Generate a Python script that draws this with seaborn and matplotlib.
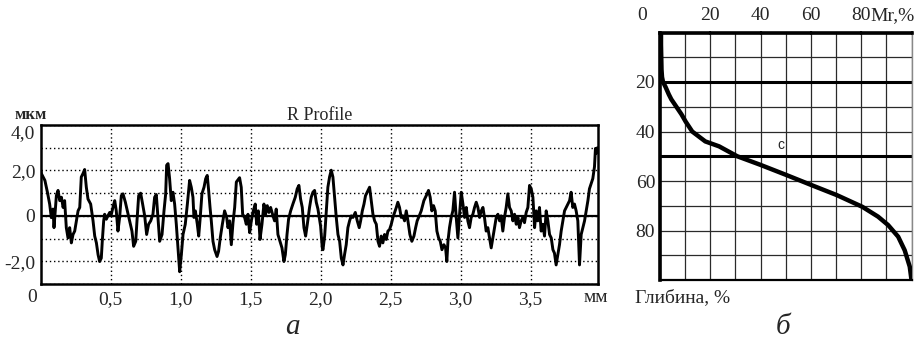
import numpy as np
import pandas as pd
import matplotlib
matplotlib.use("Agg")
import matplotlib.pyplot as plt
import matplotlib.transforms as mtrans
import seaborn as sns

# ---------------- data ----------------
# R profile (a): position, mm / height, µm
profile_x_mm = [
    0.0, 0.005, 0.03, 0.048, 0.064, 0.076, 0.088, 0.095, 0.112, 0.124, 0.136, 0.148, 0.16, 0.171,
    0.183, 0.195, 0.207, 0.219, 0.231, 0.243, 0.255, 0.267, 0.279, 0.29, 0.302, 0.314, 0.326,
    0.338, 0.357, 0.374, 0.386, 0.398, 0.41, 0.421, 0.433, 0.44, 0.45, 0.457, 0.469, 0.48,
    0.493, 0.505, 0.519, 0.529, 0.54, 0.552, 0.564, 0.576, 0.588, 0.605, 0.619, 0.636, 0.652,
    0.664, 0.679, 0.688, 0.7, 0.714, 0.726, 0.743, 0.757, 0.771, 0.786, 0.802, 0.814, 0.826,
    0.838, 0.85, 0.867, 0.881, 0.893, 0.9, 0.91, 0.921, 0.933, 0.945, 0.957, 0.969, 0.981,
    0.993, 1.005, 1.017, 1.033, 1.048, 1.064, 1.076, 1.088, 1.095, 1.105, 1.119, 1.129, 1.14,
    1.152, 1.167, 1.179, 1.19, 1.2, 1.21, 1.219, 1.231, 1.243, 1.26, 1.271, 1.283, 1.298,
    1.314, 1.329, 1.338, 1.35, 1.362, 1.374, 1.386, 1.398, 1.41, 1.421, 1.433, 1.443, 1.457,
    1.469, 1.481, 1.493, 1.505, 1.519, 1.533, 1.543, 1.555, 1.567, 1.581, 1.595, 1.607, 1.619,
    1.631, 1.643, 1.66, 1.671, 1.683, 1.695, 1.71, 1.724, 1.738, 1.748, 1.76, 1.771, 1.786,
    1.802, 1.819, 1.833, 1.845, 1.857, 1.869, 1.881, 1.893, 1.905, 1.921, 1.933, 1.945, 1.957,
    1.969, 1.981, 2.0, 2.012, 2.017, 2.029, 2.041, 2.052, 2.064, 2.076, 2.088, 2.1, 2.112,
    2.124, 2.136, 2.148, 2.16, 2.171, 2.183, 2.195, 2.207, 2.219, 2.231, 2.248, 2.262, 2.276,
    2.286, 2.298, 2.31, 2.321, 2.333, 2.35, 2.362, 2.374, 2.386, 2.398, 2.41, 2.421, 2.433,
    2.445, 2.457, 2.469, 2.481, 2.493, 2.505, 2.517, 2.529, 2.541, 2.552, 2.564, 2.576, 2.588,
    2.6, 2.612, 2.624, 2.638, 2.652, 2.667, 2.679, 2.69, 2.705, 2.719, 2.738, 2.755, 2.771,
    2.783, 2.795, 2.807, 2.819, 2.831, 2.843, 2.855, 2.867, 2.881, 2.893, 2.902, 2.91, 2.921,
    2.933, 2.945, 2.957, 2.969, 2.981, 2.993, 3.005, 3.017, 3.029, 3.041, 3.052, 3.064, 3.076,
    3.088, 3.1, 3.112, 3.124, 3.136, 3.148, 3.16, 3.171, 3.183, 3.195, 3.207, 3.219, 3.231,
    3.243, 3.255, 3.267, 3.279, 3.29, 3.302, 3.314, 3.326, 3.338, 3.35, 3.362, 3.374, 3.386,
    3.398, 3.41, 3.421, 3.433, 3.445, 3.457, 3.469, 3.481, 3.493, 3.505, 3.517, 3.529, 3.54,
    3.552, 3.564, 3.576, 3.588, 3.6, 3.612, 3.624, 3.636, 3.648, 3.66, 3.671, 3.683, 3.695,
    3.707, 3.719, 3.731, 3.743, 3.755, 3.767, 3.779, 3.79, 3.802, 3.814, 3.826, 3.838, 3.85,
    3.862, 3.874, 3.886, 3.898, 3.91, 3.921, 3.933, 3.945, 3.957, 3.964, 3.971, 3.978,
]
profile_z_um = [
    2.0, 1.86, 1.56, 1.04, 0.52, -0.08, 0.30, -0.52, 0.89, 1.12, 0.67, 0.82, 0.37, 0.67,
    -0.52, -0.97, -0.52, -1.19, -0.82, -0.67, -0.22, 0.22, 0.37, 1.71, 1.86, 2.04, 1.26,
    0.74, 0.52, -0.22, -0.89, -1.19, -1.71, -2.01, -1.86, -1.12, -0.22, 0.07, -0.15, 0.0,
    0.15, 0.07, 0.45, 0.67, 0.22, -0.67, -0.07, 0.89, 0.97, 0.6, 0.22, -0.22, -0.67,
    -1.34, -1.12, -0.22, 0.89, 1.0, 0.6, 0.0, -0.82, -0.37, -0.22, 0.07, 0.82, 0.94,
    -0.07, -1.12, -0.82, 0.22, 0.97, 2.23, 2.3, 1.64, 0.67, 1.04, 0.52, -0.37, -1.41,
    -2.46, -1.71, -0.82, -0.37, 0.52, 1.56, 1.26, 0.82, -0.07, 0.22, -0.37, -0.89, -0.07,
    0.97, 1.26, 1.64, 1.78, 1.12, 0.37, -0.22, -1.12, -1.49, -1.79, -1.56, -0.97, -0.37,
    0.22, -0.07, -0.52, -0.22, -1.27, -0.3, 0.37, 1.49, 1.59, 1.68, 1.26, 0.07, -0.07,
    -0.37, 0.07, -0.74, -0.22, 0.22, 0.52, -0.37, 0.22, -1.04, -0.37, 0.52, 0.07, 0.45,
    0.15, 0.37, 0.0, -0.22, 0.3, -0.82, -1.12, -1.41, -2.01, -1.71, -0.82, -0.15, 0.22,
    0.52, 0.82, 1.19, 1.34, 0.74, 0.37, -0.52, -0.89, -0.37, 0.37, 0.82, 1.04, 1.12,
    0.6, 0.3, -0.45, -1.41, -1.49, -0.89, 0.22, 1.26, 1.71, 2.01, 1.71, 0.82, -0.07,
    -0.82, -1.12, -1.86, -2.16, -1.71, -1.27, -0.52, -0.22, 0.0, -0.07, 0.15, -0.22, -0.52,
    -0.22, 0.22, 0.52, 0.89, 1.04, 1.26, 0.67, 0.07, -0.22, -0.37, -1.12, -1.34, -0.89,
    -1.19, -0.82, -1.04, -0.67, -0.6, -0.37, -0.07, 0.15, 0.37, 0.6, 0.37, -0.07, 0.0,
    -0.22, 0.22, -0.22, -0.82, -1.12, -0.89, -0.52, -0.22, 0.0, 0.22, 0.67, 0.89, 1.12,
    0.82, 0.22, 0.45, 0.22, -0.67, -0.97, -1.12, -1.49, -1.27, -1.41, -2.01, -1.12, -0.52,
    -0.07, 0.22, 1.04, -0.07, -0.97, 0.07, 1.04, 0.52, -0.07, 0.37, -0.22, -0.52, -0.07,
    0.07, 0.37, 0.6, 0.37, -0.07, 0.22, 0.37, -0.07, -0.67, -0.52, -0.97, -1.41, -0.97,
    -0.52, -0.07, 0.07, -0.22, 0.0, -0.67, -0.07, 0.37, 0.97, 0.37, 0.22, -0.22, 0.07,
    -0.37, -0.07, -0.52, -0.22, -0.07, -0.3, 0.15, 0.37, 1.34, 1.19, 0.82, -0.52, 0.22,
    -0.22, 0.37, -0.67, -0.37, -0.89, 0.22, -0.22, -0.82, -0.97, -1.49, -1.64, -2.16, -1.71,
    -1.27, -0.67, -0.22, 0.22, 0.37, 0.52, 0.67, 1.04, 0.37, 0.52, 0.22, -0.22, -2.16,
    -0.82, -0.52, -0.22, 0.22, 0.67, 1.19, 1.41, 1.64, 2.16, 2.97, 2.75, 3.0,
]

# Bearing curve (б): material ratio Mr, % / depth, %
bearing_mr = [0.4, 0.4, 0.5, 0.6, 0.8, 1.2, 2.2, 3.5, 4.5, 6.5, 8.5, 10.2, 12.8, 18.0, 23.5,
              30.7, 40.0, 50.3, 60.1, 70.3, 80.4, 86.7, 90.7, 94.7, 97.3, 99.3, 100.0]
bearing_depth = [0, 5, 10, 15, 18, 20, 22, 25, 27, 30, 33, 36, 40, 44, 46,
                 50, 53.5, 57.6, 61.6, 65.7, 70.4, 74.4, 77.8, 82.5, 88, 94.6, 100]

prof_yticks = [-3, -2, -1, 0, 1, 2, 3, 4]
prof_yticklabels = ["", "-2,0", "", "0", "", "2,0", "", "4,0"]
prof_xticks = [0.5, 1.0, 1.5, 2.0, 2.5, 3.0, 3.5]
prof_xticklabels = ["0,5", "1,0", "1,5", "2,0", "2,5", "3,0", "3,5"]
bear_xticks = [0, 20, 40, 60, 80, 100]
bear_xlabels = {20: "20", 40: "40", 60: "60", 80: "80"}
bear_yticks = [20, 40, 60, 80, 100]
bear_yticklabels = ["20", "40", "60", "80", ""]
bear_levels = [20, 50]

# ---------------- style ----------------
sns.set_style("white")
plt.rcParams["font.family"] = ["Liberation Serif", "DejaVu Serif"]
FS = 14

W, H = 921, 339
fig = plt.figure(figsize=(W / 100, H / 100), dpi=100)

# ---------- panel a: R profile ----------
ax1 = fig.add_axes([40.7 / W, 1 - 284 / H, (597.7 - 40.7) / W, (284 - 125) / H])
df_p = pd.DataFrame({"x": profile_x_mm, "z": profile_z_um})
ax1.axhline(0, color="black", lw=1.6, zorder=1)
sns.lineplot(data=df_p, x="x", y="z", ax=ax1, color="black", lw=2.1,
             sort=False, estimator=None, zorder=3)
ax1.set_xlim(0, 3.98)
ax1.set_ylim(-3, 4)
ax1.set_xticks(prof_xticks)
ax1.set_xticklabels(prof_xticklabels)
ax1.set_yticks(prof_yticks)
ax1.set_yticklabels(prof_yticklabels)
ax1.grid(True, color="black", lw=1.0, linestyle=(0, (1, 2)))
ax1.set_xlabel("")
ax1.set_ylabel("")
ax1.tick_params(axis="x", length=0, pad=5, labelsize=FS)
ax1.tick_params(axis="y", length=4, width=1.5, direction="inout", pad=2, labelsize=FS)
# top label sits just below its tick, clear of the unit label
ax1.get_yticklabels()[-1].set_verticalalignment("top")
for s in ax1.spines.values():
    s.set_visible(True)
    s.set_color("black")
    s.set_linewidth(1.8)

# ---------- panel б: bearing curve ----------
ax2 = fig.add_axes([660 / W, 1 - 280 / H, (911.5 - 660) / W, (280 - 32.5) / H])
df_b = pd.DataFrame({"Mr": bearing_mr, "depth": bearing_depth})
ax2.set_xlim(0, 100)
ax2.set_ylim(100, 0)
ax2.set_xticks(bear_xticks)
ax2.set_xticklabels([""] * len(bear_xticks))
ax2.set_xticks(np.arange(0, 101, 10), minor=True)
ax2.set_yticks(bear_yticks)
ax2.set_yticklabels(bear_yticklabels)
ax2.set_yticks(np.arange(0, 101, 10), minor=True)
ax2.grid(True, which="both", color="#2a2a2a", lw=0.9)
ax2.xaxis.tick_top()
for lv in bear_levels:
    ax2.axhline(lv, color="black", lw=2.2, zorder=2)
sns.lineplot(data=df_b, x="Mr", y="depth", ax=ax2, color="black", lw=3.2,
             sort=False, estimator=None, zorder=4)
ax2.set_xlabel("")
ax2.set_ylabel("")
ax2.tick_params(axis="x", which="major", length=3, width=1.5, direction="inout",
                top=True, bottom=False)
ax2.tick_params(axis="y", which="major", length=3, width=1.5, direction="inout",
                pad=2, labelsize=FS)
ax2.tick_params(which="minor", length=0)
for name, s in ax2.spines.items():
    s.set_visible(True)
    s.set_color("black")
ax2.spines["left"].set_linewidth(2.6)
ax2.spines["top"].set_linewidth(2.6)
ax2.spines["bottom"].set_linewidth(1.6)
ax2.spines["right"].set_linewidth(1.0)
ax2.spines["right"].set_color("#888888")
ax2.text(48, 45.5, "c", family=["Liberation Sans", "DejaVu Sans"], fontsize=10,
         ha="center", va="center", zorder=5)

# top labels of panel б (x in data units, y fixed above the frame)
top_tr = mtrans.blended_transform_factory(ax2.transData, fig.transFigure)
top_y = 1 - 14 / H
for v, lab in bear_xlabels.items():
    ax2.text(v, top_y, lab, transform=top_tr, fontsize=FS, ha="center", va="center_baseline")
ax2.text(-7.2, top_y, "0", transform=top_tr, fontsize=FS, ha="center", va="center_baseline")
ax2.text(83.5, top_y, "Mr,%", transform=top_tr, fontsize=FS, ha="left", va="center_baseline")

# ---------- free texts ----------
def ftext(x, y, s, **kw):
    fig.text(x / W, 1 - y / H, s, **kw)

ftext(31, 115, "мкм", fontsize=12, fontweight="bold", ha="center", va="center")
ftext(320, 116, "R Profile", fontsize=13, ha="center", va="center")
ftext(32.5, 297.5, "0", fontsize=FS, ha="center", va="center")
ftext(596, 298, "мм", fontsize=FS, ha="center", va="center")
ftext(635, 298, "Глибина, %", fontsize=FS, ha="left", va="center")
ftext(292, 327, "а", fontsize=21, style="italic", ha="center", va="center")
ftext(783, 327, "б", fontsize=21, style="italic", ha="center", va="center")

fig.savefig("out.png", dpi=100)
